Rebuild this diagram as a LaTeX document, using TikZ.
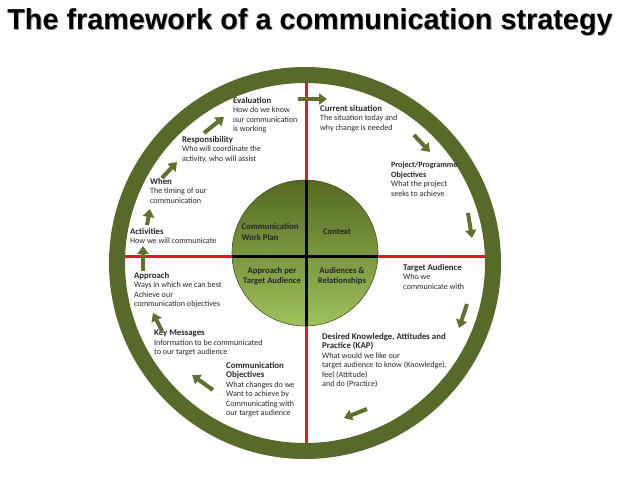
\documentclass[tikz,border=0pt]{standalone}
\usepackage{fontspec}
\setmainfont{Carlito}
\newfontfamily\titlefont{Liberation Sans}
\usetikzlibrary{arrows.meta}

\definecolor{ringgreen}{RGB}{88,106,42}
\definecolor{arrowgreen}{RGB}{96,112,46}
\definecolor{topgreen}{RGB}{84,106,34}
\definecolor{botgreen}{RGB}{160,192,92}
\definecolor{linered}{RGB}{222,28,36}
\definecolor{textgray}{RGB}{40,40,40}

\newcommand{\txtfont}{\fontsize{11.5}{13.5}\selectfont\mdseries}
\newcommand{\hdfont}{\fontsize{12.5}{14}\selectfont\bfseries}
\newcommand{\titletext}{The framework of a communication strategy}

\tikzset{
  lbl/.style={anchor=north west, align=left, inner sep=0pt, font=\txtfont, text=textgray},
  hub/.style={align=center, inner sep=0pt, font=\fontsize{12.3}{14.5}\selectfont\bfseries, text=black!85},
  flow/.style={arrowgreen, line width=2mm, -{Triangle[width=5.5mm,length=4mm]}},
}

\begin{document}
\begin{tikzpicture}[x=0.5mm,y=-0.5mm]
	\useasboundingbox (0,0) rectangle (638,479);
	% title, with its grey shadow set in the same node
	\node (title) at (310,23) {\titlefont\bfseries\fontsize{41}{43}\selectfont
		\rlap{\kern1.2pt\raisebox{-1.2pt}{\color{black!35}\titletext}}\titletext};
	% outer ring
	\draw[ringgreen, line width=8mm] (305,263) circle (188);
	% red cross
	\draw[linered, line width=1.5mm] (306,83) -- (306,443);
	\draw[linered, line width=1.5mm] (125,256) -- (485,256);
	% centre disc
	\shade[top color=topgreen, bottom color=botgreen, draw=ringgreen!80!black, line width=0.3mm] (305,253) circle (73);
	\draw[black, line width=1.5mm] (306,180) -- (306,326);
	\draw[black, line width=1.5mm] (232,256) -- (378,256);
	\node[hub, align=left] (workplan) at (270,232) {Communication\\Work Plan};
	\node[hub] (context) at (337,232) {Context};
	\node[hub] (appta) at (272,276) {Approach per\\Target Audience};
	\node[hub] (audrel) at (342,276) {Audiences \&\\Relationships};
	% left half
	\node[lbl] (eval) at (233,97) {\hdfont Evaluation\\\txtfont How do we know\\our communication\\is working};
	\node[lbl] (resp) at (182,136) {\hdfont Responsibility\\\txtfont Who will coordinate the\\activity, who will assist};
	\node[lbl] (when) at (150,178) {\hdfont When\\\txtfont The timing of our\\communication};
	\node[lbl] (activ) at (130,228) {\hdfont Activities\\\txtfont How we will communicate};
	\node[lbl] (approach) at (134,272) {\hdfont Approach\\\txtfont Ways in which we can best\\Achieve our\\communication objectives};
	\node[lbl] (keymsg) at (154,330) {\hdfont Key Messages\\\txtfont Information to be communicated\\to our target audience};
	\node[lbl] (commobj) at (226,362) {\hdfont Communication\\\hdfont Objectives\\\txtfont What changes do we\\Want to achieve by\\Communicating with\\our target audience};
	% right half
	\node[lbl] (current) at (320,105) {\hdfont Current situation\\\txtfont The situation today and\\why change is needed};
	\node[lbl] (project) at (391,162) {\txtfont\bfseries Project/Programme\\\txtfont\bfseries Objectives\\\txtfont What the project\\seeks to achieve};
	\node[lbl] (target) at (403,264) {\hdfont Target Audience\\\txtfont Who we\\communicate with};
	\node[lbl] (kap) at (322,333) {\hdfont Desired Knowledge, Attitudes and\\\hdfont Practice (KAP)\\\txtfont What would we  like our\\target audience to know (Knowledge),\\feel (Attitude)\\and do (Practice)};
	% arrows round the ring
	\foreach \n/\sx/\sy/\ex/\ey in {1/298/99/327/99, 2/414/135/430/152, 3/468/213/472/238,
	    4/467/304/459/328, 5/367/409/344/418, 6/213/390/192/375, 7/162/331/153/313,
	    8/143/271/143/246, 9/147/225/150/209, 10/162/178/177/162, 11/204/133/224/117} {
		\coordinate (s\n) at (\sx,\sy);
		\coordinate (e\n) at (\ex,\ey);
		\draw[flow] (s\n) -- (e\n);
	}
\end{tikzpicture}
\end{document}
